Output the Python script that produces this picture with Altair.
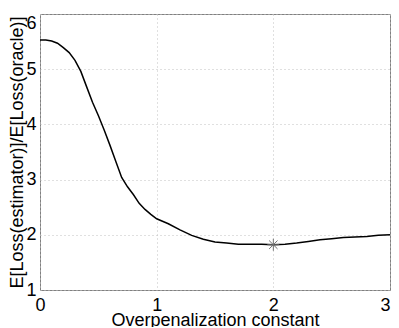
import altair as alt
import pandas as pd

x_vals = [0, 0.05, 0.1, 0.15, 0.2, 0.25, 0.3, 0.35, 0.4, 0.45, 0.5, 0.55, 0.6, 0.65,
          0.7, 0.75, 0.8, 0.85, 0.9, 0.95, 1.0, 1.1, 1.2, 1.3, 1.4, 1.5, 1.6, 1.7,
          1.8, 1.9, 2.0, 2.1, 2.2, 2.3, 2.4, 2.5, 2.6, 2.7, 2.8, 2.9, 3.0]
y_vals = [5.53, 5.53, 5.51, 5.47, 5.39, 5.30, 5.16, 4.96, 4.68, 4.40, 4.16, 3.90, 3.62, 3.33,
          3.04, 2.87, 2.73, 2.57, 2.46, 2.37, 2.29, 2.20, 2.09, 1.99, 1.92, 1.87, 1.85, 1.83,
          1.83, 1.83, 1.82, 1.83, 1.85, 1.88, 1.91, 1.93, 1.95, 1.96, 1.97, 1.99, 2.00]
star_x = [2.0]
star_y = [1.82]

x_ticks = [0, 1, 2, 3]
y_ticks = [1, 2, 3, 4, 5, 6]

df = pd.DataFrame({"x": x_vals, "y": y_vals})
df_star = pd.DataFrame({"x": star_x, "y": star_y})

FONT = "Liberation Sans"

x_enc = alt.X("x:Q", scale=alt.Scale(domain=[0, 3], nice=False, zero=False),
              axis=alt.Axis(title="Overpenalization constant", values=x_ticks,
                            format="d", ticks=False, domain=False, labelFlush=False,
                            labelPadding=6, labelFontSize=18, titleFontSize=18,
                            labelFont=FONT, titleFont=FONT, labelColor="#000",
                            titleColor="#000", titleFontWeight="normal",
                            labelAlign={"condition": {"test": "datum.value == 3", "value": "right"}, "value": "center"},
                            titleBaseline="alphabetic", titleY=35,
                            grid=True, gridColor="#c0c0c0", gridDash=[1, 3],
                            gridWidth=1))
y_enc = alt.Y("y:Q", scale=alt.Scale(domain=[1, 6], nice=False, zero=False),
              axis=alt.Axis(title="E[Loss(estimator)]/E[Loss(oracle)]", values=y_ticks,
                            format="d", ticks=False, domain=False, labelFlush=False,
                            labelPadding=4, labelFontSize=18, titleFontSize=18,
                            labelFont=FONT, titleFont=FONT, labelColor="#000",
                            titleColor="#000", titleFontWeight="normal",
                            labelBaseline={"condition": {"test": "datum.value == 6", "value": "top"}, "value": "middle"},
                            titleBaseline="alphabetic", titleX=-18, titleAngle=270,
                            grid=True, gridColor="#c0c0c0", gridDash=[1, 3],
                            gridWidth=1))

line = alt.Chart(df).mark_line(color="#000000", strokeWidth=1.5).encode(x=x_enc, y=y_enc)

star = alt.Chart(df_star).mark_point(
    shape="M-1,0L1,0M0,-1L0,1M-0.7,-0.7L0.7,0.7M-0.7,0.7L0.7,-0.7",
    size=144, filled=False, color="#707070", strokeWidth=1, opacity=1
).encode(x="x:Q", y="y:Q")

chart = (line + star).properties(
    width=350, height=276,
    autosize=alt.AutoSizeParams(type="none"),
    padding={"left": 32, "top": 6, "right": 1, "bottom": 37},
    background="white"
).configure_view(stroke="#808080", strokeWidth=1)

chart.save("out.html", embed_options={"renderer": "svg", "actions": False})
